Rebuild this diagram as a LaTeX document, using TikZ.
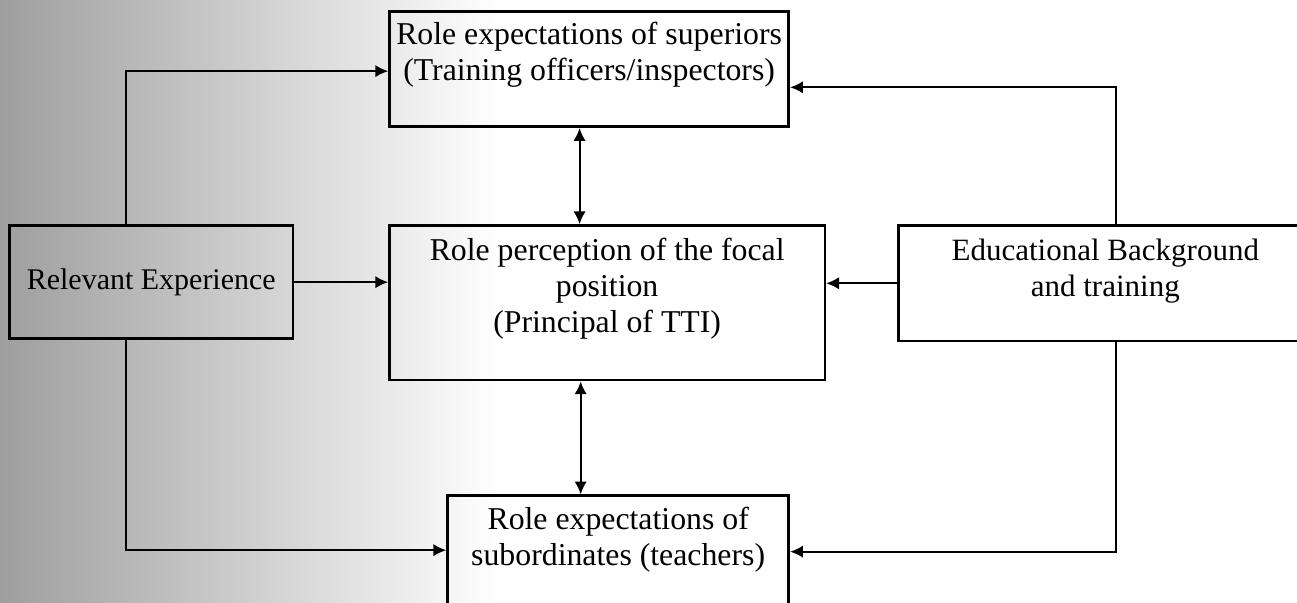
\documentclass[tikz,border=0pt]{standalone}
\usepackage{fontspec}
\setmainfont{Liberation Serif}
\usetikzlibrary{arrows.meta,positioning}
\tikzstyle{line} = [draw, line width=0.8pt, -{Latex[length=5pt,width=4.8pt]}]
\tikzstyle{twoway} = [draw, line width=0.8pt, {Latex[length=5pt,width=4.8pt]}-{Latex[length=5pt,width=4.8pt]}]
\tikzstyle{block} = [rectangle, draw=black, line width=1pt, inner sep=0pt, align=flush center, font=\fontsize{12.3}{13.9}\selectfont]

\begin{document}
\begin{tikzpicture}[node distance = 1cm, auto]
				\useasboundingbox (0,0) rectangle (17.64,-8.19);
				\shade [left color=black!38, right color=white] (0,0) rectangle (6.8,-8.19);
				% Place nodes
				\node [block, anchor=north west, text width=5.92cm, text height=0.48cm, text depth=1.62cm] (focal) at (5.28,-3.05) {Role perception of the focal\\ position\\ (Principal of TTI)};
				\node [block, above right=1.31cm and 0cm of focal.north west, text width=5.43cm, text height=0.45cm, text depth=1.12cm] (superiors) {Role expectations of superiors\\ (Training officers/inspectors)};
				\node [block, below right=1.54cm and 0.79cm of focal.south west, text width=4.64cm, text height=0.46cm, text depth=1.12cm] (subordinates) {Role expectations of\\ subordinates (teachers)};
				\node [block, below left=0cm and 1.28cm of focal.north west, minimum width=3.85cm, minimum height=1.54cm, font=\fontsize{11.6}{13.9}\selectfont] (experience) {Relevant Experience};
				\node [block, below right=0cm and 0.97cm of focal.north east, text width=5.62cm, text height=0.48cm, text depth=1.09cm, font=\fontsize{12}{13.9}\selectfont] (education) {Educational Background\\ and training};
				% Draw edges
				\path [line] ([xshift=-0.34cm]experience.north) |- ([yshift=-0.03cm]superiors.west);
				\path [line] (experience.east) -- (experience.east -| focal.west);
				\path [line] ([xshift=-0.34cm]experience.south) |- ([yshift=0.05cm]subordinates.west);
				\path [line] ([xshift=0.15cm]education.north) |- ([yshift=-0.25cm]superiors.east);
				\path [line] (education.west) -- (education.west -| focal.east);
				\path [line] ([xshift=0.15cm]education.south) |- ([yshift=0.03cm]subordinates.east);
				\path [twoway] ([xshift=-0.13cm]superiors.south) -- ([xshift=-0.13cm]superiors.south |- focal.north);
				\path [twoway] ([xshift=-0.36cm]focal.south) -- ([xshift=-0.36cm]focal.south |- subordinates.north);
\end{tikzpicture}
\end{document}
